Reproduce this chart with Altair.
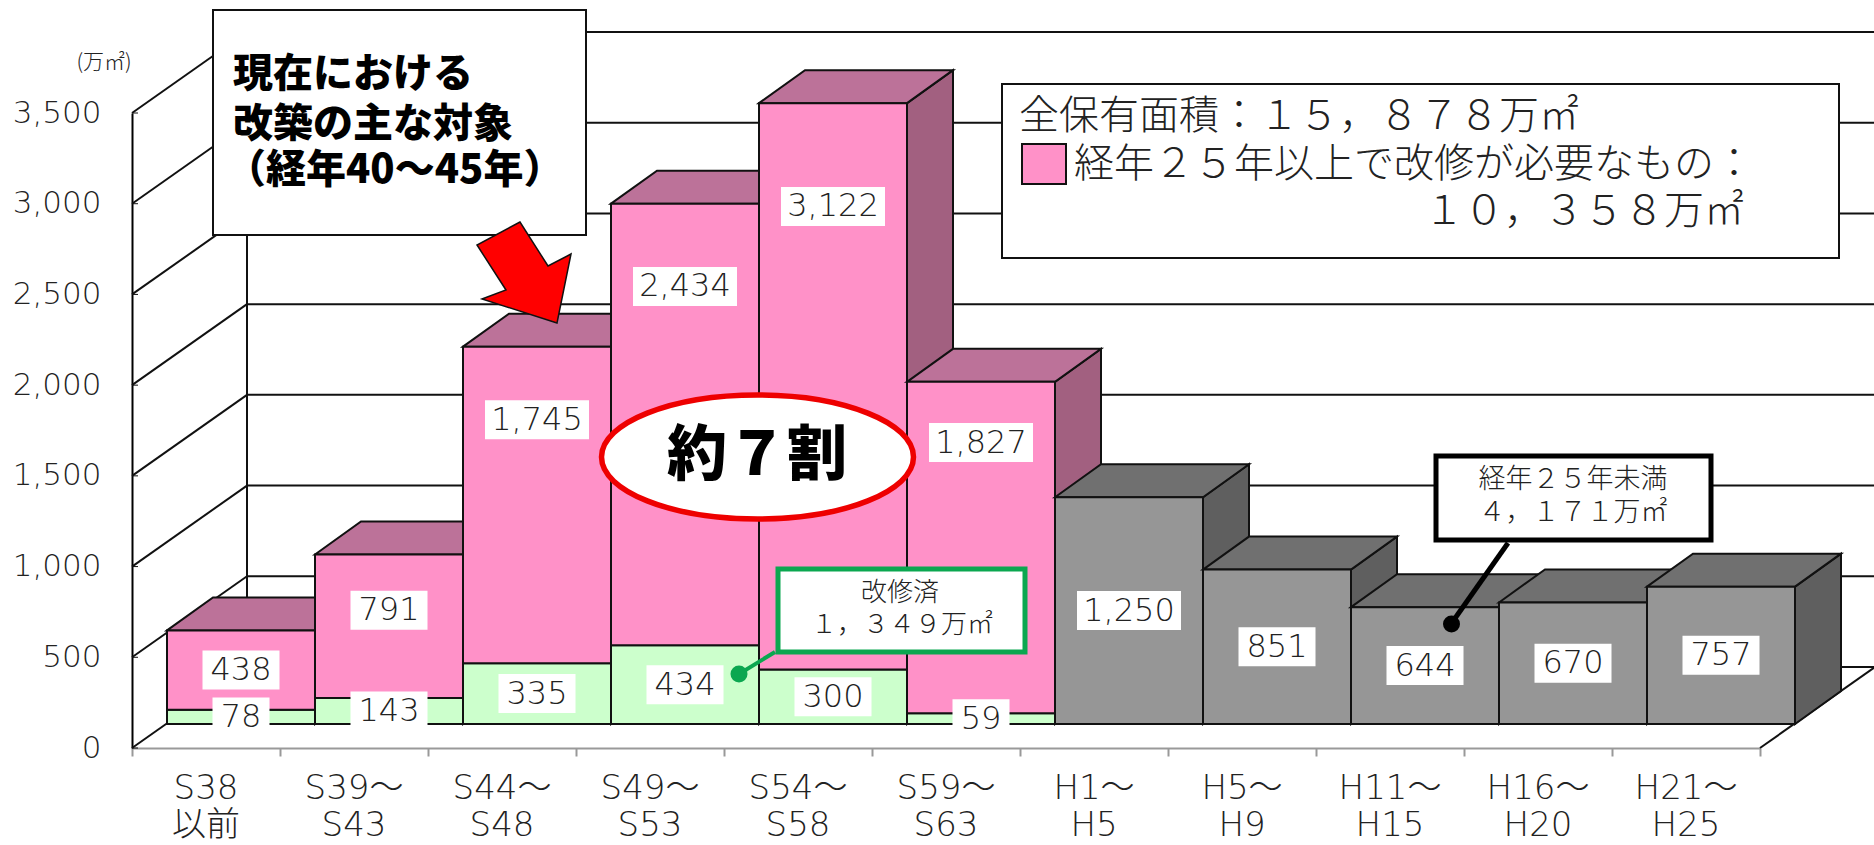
import altair as alt
import pandas as pd

# Floor area by construction period (10,000 m2)
periods_top = ["S38", "S39～", "S44～", "S49～", "S54～", "S59～", "H1～", "H5～", "H11～", "H16～", "H21～"]
periods_bottom = ["以前", "S43", "S48", "S53", "S58", "S63", "H5", "H9", "H15", "H20", "H25"]
renovated = [78, 143, 335, 434, 300, 59]
needs_renovation = [438, 791, 1745, 2434, 3122, 1827]
recent = [1250, 851, 644, 670, 757]
y_ticks = [0, 500, 1000, 1500, 2000, 2500, 3000, 3500]

# Upward shift of the pink segment labels, in value units
pink_label_lift = [0, 88, 469, 761, 992, 579]

# Page layout, in pixels
LEFT, TOP = 132, 113
PLOT_W, PLOT_H = 1628, 635
CANVAS_W, CANVAS_H = 1874, 845
CAT_PX = PLOT_W / 11
VAL_PX = PLOT_H / 3500


def ux(px):
    return px / CAT_PX


def uy(px):
    return px / VAL_PX


FRONT_X, FRONT_Y = ux(35), uy(24)
DEPTH_X, DEPTH_Y = ux(46), uy(33)
WALL_X, WALL_Y = ux(115), uy(81)
X_END = ux(CANVAS_W - LEFT)

LATIN = "DejaVu Sans, Noto Sans CJK JP"
CJK = "Noto Sans CJK JP"
INK = "#222222"

x_scale = alt.Scale(domain=[0, 11], nice=False, zero=False)
y_scale = alt.Scale(domain=[0, 3500], nice=False, zero=False)
X = alt.X("x:Q", scale=x_scale, axis=None)
Y = alt.Y("y:Q", scale=y_scale, axis=None, stack=None)

layers = []

# Axes
axes = alt.Chart(pd.DataFrame({"x": [0], "y": [0]})).mark_point(opacity=0).encode(
    x=alt.X(
        "x:Q",
        scale=x_scale,
        title=None,
        axis=alt.Axis(
            values=list(range(12)),
            labels=False,
            tickColor="#999999",
            tickWidth=2,
            tickSize=8,
            domainColor="#999999",
            domainWidth=2,
            grid=False,
        ),
    ),
    y=alt.Y(
        "y:Q",
        scale=y_scale,
        title=None,
        axis=alt.Axis(
            values=y_ticks,
            format=",d",
            ticks=False,
            labelPadding=31,
            labelFont=LATIN,
            labelFontSize=31,
            labelFontWeight=200,
            labelColor=INK,
            domainColor="black",
            domainWidth=2,
            grid=False,
        ),
    ),
)
layers.append(axes)

# Walls and floor of the box behind the bars
wall_rows = []
line_id = 0


def add_line(x0, y0, x1, y1):
    global line_id
    wall_rows.append({"id": line_id, "x": x0, "y": y0})
    wall_rows.append({"id": line_id, "x": x1, "y": y1})
    line_id += 1


for v in y_ticks:
    add_line(0, v, WALL_X, v + WALL_Y)
    add_line(WALL_X, v + WALL_Y, X_END, v + WALL_Y)
add_line(WALL_X, WALL_Y, WALL_X, 3500 + WALL_Y)
add_line(11, 0, 11 + WALL_X, WALL_Y)
layers.append(
    alt.Chart(pd.DataFrame(wall_rows))
    .mark_line(color="#111111", strokeWidth=2)
    .encode(x=X, y=Y, detail="id:N")
)

# Short inner ticks on the left wall
layers.append(
    alt.Chart(pd.DataFrame({"x": [0] * 8, "x2": [ux(6)] * 8, "y": y_ticks}))
    .mark_rule(color="#111111", strokeWidth=1)
    .encode(x=X, x2="x2:Q", y=Y)
)

# Bars, drawn left to right so nearer faces overlap properly
PINK = ("#FF91C8", "#BC7299", "#A26080")
GREEN = "#CCFFCC"
GRAY = ("#969696", "#707070", "#5F5F5F")
EDGE = dict(stroke="#111111", strokeWidth=2)

label_rows = []
segments = [(renovated[i], needs_renovation[i]) for i in range(6)] + [(0, v) for v in recent]
for i, (low, high) in enumerate(segments):
    colors = PINK if i < 6 else GRAY
    fx0, fx1 = i + FRONT_X, i + 1 + FRONT_X
    fb, ft = FRONT_Y, FRONT_Y + low + high
    side = pd.DataFrame(
        {
            "x": [fx1, fx1 + DEPTH_X],
            "y": [ft, ft + DEPTH_Y],
            "y2": [fb, fb + DEPTH_Y],
        }
    )
    top = pd.DataFrame(
        {
            "x": [fx0, fx0 + DEPTH_X, fx1, fx1 + DEPTH_X],
            "y": [ft, ft + DEPTH_Y, ft + DEPTH_Y, ft + DEPTH_Y],
            "y2": [ft, ft, ft, ft + DEPTH_Y],
        }
    )
    layers.append(alt.Chart(side).mark_area(color=colors[2], **EDGE).encode(x=X, y=Y, y2="y2:Q"))
    layers.append(alt.Chart(top).mark_area(color=colors[1], **EDGE).encode(x=X, y=Y, y2="y2:Q"))
    rects = []
    if low:
        rects.append({"x": fx0, "x2": fx1, "y": fb, "y2": fb + low, "c": GREEN})
    rects.append({"x": fx0, "x2": fx1, "y": fb + low, "y2": ft, "c": colors[0]})
    layers.append(
        alt.Chart(pd.DataFrame(rects))
        .mark_rect(**EDGE)
        .encode(x=X, x2="x2:Q", y=Y, y2="y2:Q", color=alt.Color("c:N", scale=None, legend=None))
    )
    mid_x = (fx0 + fx1) / 2
    if low:
        label_rows.append({"x": mid_x, "y": fb + low / 2, "t": f"{low:,}"})
    lift = pink_label_lift[i] if i < 6 else 0
    label_rows.append({"x": mid_x, "y": fb + low + high / 2 + lift, "t": f"{high:,}"})

# Value labels on white plates
BOX_W = {2: 57, 3: 77, 5: 104}
labels = pd.DataFrame(label_rows)
labels["x0"] = [r.x - ux(BOX_W[len(r.t)] / 2) for r in labels.itertuples()]
labels["x1"] = [r.x + ux(BOX_W[len(r.t)] / 2) for r in labels.itertuples()]
labels["y0"] = labels["y"] - uy(19.5)
labels["y1"] = labels["y"] + uy(19.5)
layers.append(
    alt.Chart(labels)
    .mark_rect(color="white")
    .encode(
        x=alt.X("x0:Q", scale=x_scale, axis=None),
        x2="x1:Q",
        y=alt.Y("y0:Q", scale=y_scale, axis=None),
        y2="y1:Q",
    )
)
layers.append(
    alt.Chart(labels)
    .mark_text(font=LATIN, fontSize=32, fontWeight=200, color=INK, baseline="middle")
    .encode(x=X, y=Y, text="t:N")
)

# Period labels under the axis
cats = pd.DataFrame(
    {"x": [i + 0.5 for i in range(11)], "top": periods_top, "bottom": periods_bottom}
)
for col, y_px in (("top", 789), ("bottom", 826)):
    layers.append(
        alt.Chart(cats)
        .mark_text(font=LATIN, fontSize=34, fontWeight=200, color=INK, baseline="middle")
        .encode(x=X, y=alt.value(y_px - TOP), text=f"{col}:N")
    )

one = pd.DataFrame({"a": [0]})


def box(x0, y0, x1, y1, fill="white", stroke="#111111", width=2):
    return alt.Chart(one).mark_rect(fill=fill, stroke=stroke, strokeWidth=width).encode(
        x=alt.value(x0 - LEFT), x2=alt.value(x1 - LEFT), y=alt.value(y0 - TOP), y2=alt.value(y1 - TOP)
    )


def note(text, x, y, size, align="left", weight=300, font=CJK, color=INK):
    return alt.Chart(one).mark_text(
        text=text, font=font, fontSize=size, fontWeight=weight, align=align, baseline="middle", color=color
    ).encode(x=alt.value(x - LEFT), y=alt.value(y - TOP))


def segment(x0, y0, x1, y1, color, width):
    return alt.Chart(one).mark_rule(color=color, strokeWidth=width).encode(
        x=alt.value(x0 - LEFT), x2=alt.value(x1 - LEFT), y=alt.value(y0 - TOP), y2=alt.value(y1 - TOP)
    )


def dot(x, y, color, diameter=17):
    return alt.Chart(one).mark_point(
        shape="circle", size=diameter**2, filled=True, color=color, opacity=1
    ).encode(x=alt.value(x - LEFT), y=alt.value(y - TOP))


def polygon(points, fill, stroke, width):
    xs = [p[0] for p in points]
    ys = [p[1] for p in points]
    cx, cy = (min(xs) + max(xs)) / 2, (min(ys) + max(ys)) / 2
    half = max(max(xs) - min(xs), max(ys) - min(ys)) / 2
    path = "M" + "L".join(f"{(px - cx) / half:.4f},{(py - cy) / half:.4f}" for px, py in points) + "Z"
    return alt.Chart(one).mark_point(
        shape=path, size=(2 * half) ** 2, filled=True, fill=fill, stroke=stroke, strokeWidth=width, opacity=1
    ).encode(x=alt.value(cx - LEFT), y=alt.value(cy - TOP))


def ellipse(cx, cy, rx, ry, fill, stroke, width):
    k = 0.5523
    b = ry / rx
    path = (
        f"M-1,0C-1,{-k * b:.4f},{-k:.4f},{-b:.4f},0,{-b:.4f}"
        f"C{k:.4f},{-b:.4f},1,{-k * b:.4f},1,0"
        f"C1,{k * b:.4f},{k:.4f},{b:.4f},0,{b:.4f}"
        f"C{-k:.4f},{b:.4f},-1,{k * b:.4f},-1,0Z"
    )
    return alt.Chart(one).mark_point(
        shape=path, size=(2 * rx) ** 2, filled=True, fill=fill, stroke=stroke, strokeWidth=width, opacity=1
    ).encode(x=alt.value(cx - LEFT), y=alt.value(cy - TOP))


# Unit caption
layers.append(note("(万㎡)", 104, 63, 21, align="center"))

# Callout for the current rebuilding target
layers.append(box(213, 10, 586, 235))
layers.append(note("現在における", 233, 75, 40, weight=900, color="black"))
layers.append(note("改築の主な対象", 233, 125, 40, weight=900, color="black"))
layers.append(note("（経年40～45年）", 226, 171, 40, weight=900, color="black"))
layers.append(
    polygon(
        [(520, 222), (477, 245), (506, 290), (482, 299), (557, 323), (571, 254), (548, 266)],
        "#FF0000",
        "#111111",
        1.5,
    )
)

# Share ellipse
layers.append(ellipse(757.5, 457, 156, 62, "white", "#EE0000", 5.5))
layers.append(note("約７割", 757, 457, 60, align="center", weight=900, color="black"))

# Totals box
layers.append(box(1002, 84, 1839, 258))
layers.append(note("全保有面積：１５，８７８万㎡", 1019, 117, 40))
layers.append(box(1022, 144, 1066, 184, fill=PINK[0]))
layers.append(note("経年２５年以上で改修が必要なもの：", 1074, 165, 40))
layers.append(note("１０，３５８万㎡", 1744, 212, 40, align="right"))

# Green callout for renovated floor area
GREEN_LINE = "#0BA750"
layers.append(segment(775, 652, 739, 674, GREEN_LINE, 4))
layers.append(dot(739, 674, GREEN_LINE))
layers.append(box(778, 569, 1025, 652, stroke=GREEN_LINE, width=5))
layers.append(note("改修済", 900, 593, 26, align="center"))
layers.append(note("１，３４９万㎡", 902, 625, 26, align="center"))

# Black callout for recent stock
layers.append(segment(1508, 543, 1451, 624, "black", 5))
layers.append(dot(1451.5, 624, "black"))
layers.append(box(1436, 456, 1711, 540, stroke="black", width=5))
layers.append(note("経年２５年未満", 1573, 480, 27, align="center"))
layers.append(note("４，１７１万㎡", 1573, 513, 27, align="center"))

chart = (
    alt.layer(*layers)
    .resolve_axis(x="independent", y="independent")
    .properties(
        width=PLOT_W,
        height=PLOT_H,
        padding={
            "left": LEFT,
            "top": TOP,
            "right": CANVAS_W - LEFT - PLOT_W,
            "bottom": CANVAS_H - TOP - PLOT_H,
        },
        autosize=alt.AutoSizeParams(type="none", contains="content"),
        background="white",
    )
    .configure_view(stroke=None)
)

chart.save("out.html", embed_options={"renderer": "svg", "actions": False})
